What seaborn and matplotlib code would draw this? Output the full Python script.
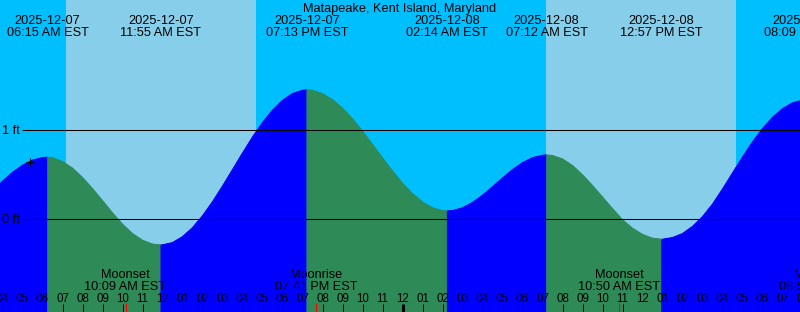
import numpy as np
import pandas as pd
import matplotlib
matplotlib.use("Agg")
import matplotlib.pyplot as plt
import seaborn as sns
from matplotlib import transforms

# ---------------- data ----------------
title = "Matapeake, Kent Island, Maryland"

# hours relative to noon 2025-12-07 (EST), heights in feet
tide_hours = [-8.5, -8.0, -7.5, -7.0, -6.5, -6.0, -5.75, -5.5, -5.0, -4.5, -4.0, -3.5, -3.0, -2.5,
              -2.0, -1.5, -1.0, -0.5, -0.0833, 0.0, 0.5, 1.0, 1.5, 2.0, 2.5, 3.0, 3.5, 4.0, 4.5,
              5.0, 5.5, 6.0, 6.5, 7.0, 7.2167, 7.5, 8.0, 8.5, 9.0, 9.5, 10.0, 10.5, 11.0, 11.5,
              12.0, 12.5, 13.0, 13.5, 14.0, 14.2333, 14.5, 15.0, 15.5, 16.0, 16.5, 17.0, 17.5,
              18.0, 18.5, 19.0, 19.2, 19.5, 20.0, 20.5, 21.0, 21.5, 22.0, 22.5, 23.0, 23.5, 24.0,
              24.5, 24.95, 25.0, 25.5, 26.0, 26.5, 27.0, 27.5, 28.0, 28.5, 29.0, 29.5, 30.0, 30.5,
              31.0, 31.5, 32.0, 32.15]
tide_heights = [0.305, 0.418, 0.518, 0.598, 0.655, 0.684, 0.688, 0.683, 0.640, 0.565, 0.460, 0.335,
                0.200, 0.062, -0.065, -0.170, -0.245, -0.288, -0.298, -0.297, -0.271, -0.205,
                -0.104, 0.029, 0.187, 0.363, 0.548, 0.734, 0.914, 1.077, 1.217, 1.327, 1.403,
                1.440, 1.444, 1.439, 1.403, 1.335, 1.239, 1.119, 0.981, 0.832, 0.680, 0.533,
                0.397, 0.279, 0.185, 0.120, 0.088, 0.084, 0.088, 0.120, 0.180, 0.261, 0.356,
                0.455, 0.548, 0.627, 0.683, 0.710, 0.713, 0.707, 0.668, 0.595, 0.490, 0.370,
                0.240, 0.110, -0.015, -0.110, -0.180, -0.222, -0.234, -0.234, -0.215, -0.170,
                -0.090, 0.020, 0.160, 0.330, 0.510, 0.690, 0.860, 1.010, 1.136, 1.234, 1.299,
                1.328, 1.330]

tide_event_hours = [-5.75, -0.0833, 7.2167, 14.2333, 19.2, 24.95, 32.15]
tide_event_dates = ["2025-12-07", "2025-12-07", "2025-12-07", "2025-12-08",
                    "2025-12-08", "2025-12-08", "2025-12-08"]
tide_event_times = ["06:15 AM EST", "11:55 AM EST", "07:13 PM EST", "02:14 AM EST",
                    "07:12 AM EST", "12:57 PM EST", "08:09 PM EST"]

sunrise_hours = [-4.833, 19.167]
sunset_hours = [4.667, 28.667]

moon_event_hours = [-1.85, 7.6833, 22.8333, 32.8667]
moon_event_names = ["Moonset", "Moonrise", "Moonset", "Moonrise"]
moon_event_times = ["10:09 AM EST", "07:41 PM EST", "10:50 AM EST", "08:52 PM EST"]

hour_ticks = list(range(-8, 33))
hour_tick_labels = ["04", "05", "06", "07", "08", "09", "10", "11", "12",
                    "01", "02", "03", "04", "05", "06", "07", "08", "09", "10", "11", "12",
                    "01", "02", "03", "04", "05", "06", "07", "08", "09", "10", "11", "12",
                    "01", "02", "03", "04", "05", "06", "07", "08"]

datum_levels = [1, 0]
datum_labels = ["1 ft", "0 ft"]

now_hour = -6.615
now_height = 0.638

# ---------------- style ----------------
W, H = 800, 312
NIGHT = "#00BFFF"
DAY = "#87CEEB"
RISING = "#0000FF"
FALLING = "#2E8B57"
FS = 9.2

sns.set_style("white")
plt.rcParams["font.family"] = ["Liberation Sans", "DejaVu Sans"]

fig = plt.figure(figsize=(W / 100, H / 100), dpi=100, facecolor=NIGHT)
ax = fig.add_axes([0, 0, 1, 1])
ax.set_axis_off()

x0 = -162.5 / 20.0
x1 = (W - 162.5) / 20.0
px_per_ft = 89.0
zero_px = 218.5


def fy(ypx):
    return 1 - ypx / H


bt = transforms.blended_transform_factory(ax.transData, fig.transFigure)

# daylight
for r, s in zip(sunrise_hours, sunset_hours):
    ax.axvspan(r, s, color=DAY, lw=0, zorder=0)

# water, split at highs and lows
bounds = [tide_hours[0]] + [h for h in tide_event_hours if h > tide_hours[0]]
if bounds[-1] < tide_hours[-1]:
    bounds.append(tide_hours[-1])
rows = []
for i in range(len(bounds) - 1):
    a, b = bounds[i], bounds[i + 1]
    seg = [(h, v) for h, v in zip(tide_hours, tide_heights) if a - 1e-9 <= h <= b + 1e-9]
    hs = [p[0] for p in seg]
    vs = [p[1] for p in seg]
    rising = vs[-1] > vs[0]
    c = RISING if rising else FALLING
    ax.fill_between(hs, vs, -5, color=c, lw=0.4, edgecolor=c, zorder=2)
    for h, v in seg:
        rows.append({"hour": h, "height": v, "segment": i,
                     "phase": "rising" if rising else "falling"})
df = pd.DataFrame(rows)
sns.lineplot(data=df, x="hour", y="height", hue="phase", units="segment", estimator=None,
             palette={"rising": RISING, "falling": FALLING}, legend=False, lw=0.8,
             sort=False, ax=ax, zorder=2)
ax.set_xlim(x0, x1)
ax.set_ylim(-(H - zero_px) / px_per_ft, zero_px / px_per_ft)
ax.set_axis_off()

# datum lines
ax.hlines(datum_levels, x0 + 22 / 20.0, x1, color="black", lw=0.75, zorder=4)
for lvl, lab in zip(datum_levels, datum_labels):
    ypx = zero_px - lvl * px_per_ft
    fig.text(2.5 / W, fy(ypx + 4.2), lab, fontsize=FS, color="black",
             ha="left", va="baseline", zorder=5)

# current-level mark
ax.plot([now_hour], [now_height], marker="+", ms=6, mew=0.8, color="black",
        ls="none", zorder=5)

# title and tide event labels
fig.text(0.5, fy(12.0), title, fontsize=FS, ha="center", va="baseline", color="black")
for h, d, t in zip(tide_event_hours, tide_event_dates, tide_event_times):
    ax.text(h, fy(24.3), d, transform=bt, fontsize=FS, ha="center", va="baseline",
            color="black", zorder=6)
    ax.text(h, fy(36.0), t, transform=bt, fontsize=FS, ha="center", va="baseline",
            color="black", zorder=6)

# moon event labels
for h, n, t in zip(moon_event_hours, moon_event_names, moon_event_times):
    ax.text(h, fy(278.3), n, transform=bt, fontsize=FS, ha="center", va="baseline",
            color="black", zorder=6)
    ax.text(h, fy(290.0), t, transform=bt, fontsize=FS, ha="center", va="baseline",
            color="black", zorder=6)

# hour ticks and labels
for h, lab in zip(hour_ticks, hour_tick_labels):
    ax.text(h, fy(301.5), lab, transform=bt, fontsize=8.3, ha="center", va="baseline",
            color="black", zorder=6)
    if h % 24 == 0:
        continue
    lw = 2.2 if h % 24 == 12 else 0.75
    ax.vlines([h], fy(304), fy(312.5), transform=bt, color="black", lw=lw, zorder=6)
ax.vlines(moon_event_hours, fy(303), fy(312.5), transform=bt, color="#FF0000", lw=0.75,
          zorder=6)

fig.savefig("out.png", dpi=100, facecolor=NIGHT)
